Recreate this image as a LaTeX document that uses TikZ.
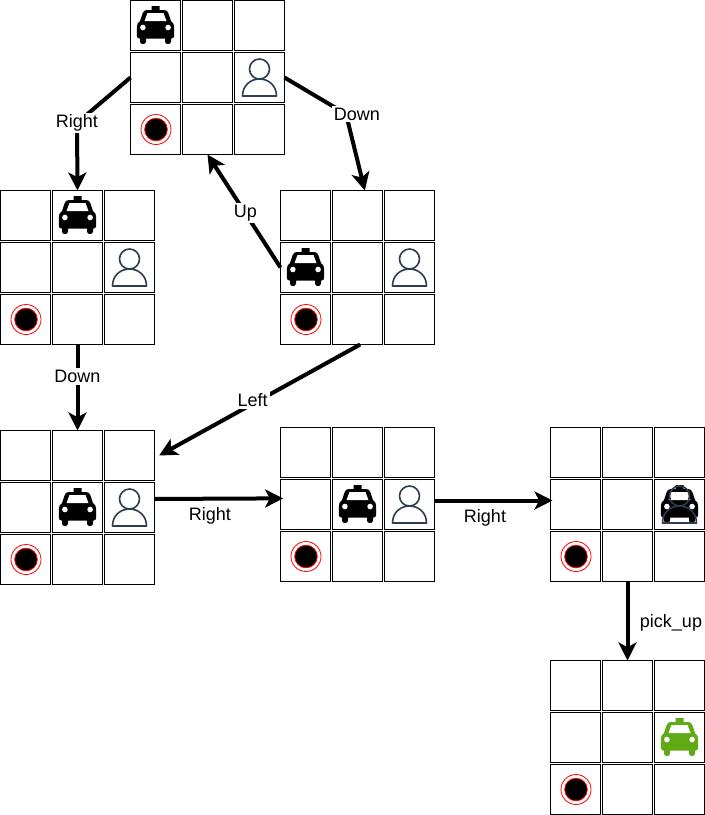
\documentclass[tikz,border=0pt]{standalone}
\usepackage{fontspec}
\setmainfont{Liberation Sans}
\usetikzlibrary{positioning,arrows.meta}
\definecolor{taxigreen}{HTML}{60A917}
\definecolor{ridercolor}{HTML}{2E3D4F}
\tikzset{
    cellbox/.style={draw, line width=1pt, minimum size=37.5pt, inner sep=0pt, outer sep=0pt},
    move/.style={line width=3pt, -{Stealth[length=13.5pt, width=13.5pt, inset=3.5pt]}},
    movelabel/.style={fill=white, inner sep=1.5pt, font=\fontsize{13.5}{16}\selectfont},
    sidelabel/.style={inner sep=1.5pt, font=\fontsize{13.5}{16}\selectfont},
    pics/taxicab/.style={code={
        \fill[#1, line join=round] (-4,-19.5) -- (4,-19.5) -- (4,-15.5) -- (9,-15.5)
            .. controls (11,-15.5) and (12,-14) .. (13,-12) -- (15.5,-4.5)
            .. controls (17.5,-3.5) and (18.7,-1) .. (18.7,2) -- (18.7,10)
            .. controls (18.7,12) and (17.5,13) .. (16,13) -- (15.5,13) -- (15.5,16)
            .. controls (15.5,19.5) and (9.5,19.5) .. (9.5,16) -- (9.5,13)
            -- (-9.5,13) -- (-9.5,16)
            .. controls (-9.5,19.5) and (-15.5,19.5) .. (-15.5,16) -- (-15.5,13) -- (-16,13)
            .. controls (-17.5,13) and (-18.7,12) .. (-18.7,10) -- (-18.7,2)
            .. controls (-18.7,-1) and (-17.5,-3.5) .. (-15.5,-4.5) -- (-13,-12)
            .. controls (-12,-14) and (-11,-15.5) .. (-9,-15.5) -- (-4,-15.5) -- cycle;
        \fill[white] (-8,-12.5) -- (8,-12.5) -- (11,-4.5) -- (-11,-4.5) -- cycle;
        \fill[white] (-12.6,2) circle (2.8) (12.6,2) circle (2.8);
    }},
    pics/rider/.style={code={
        \draw[ridercolor, line width=1.2pt, fill=#1] (0,-8.5) circle (10);
        \draw[ridercolor, line width=1.2pt, line join=round, fill=#1] (-17,18.5)
            .. controls (-17,8) and (-9,1.5) .. (0,1.5)
            .. controls (9,1.5) and (17,8) .. (17,18.5) -- cycle;
    }},
    pics/dropoff/.style={code={
        \draw[red, line width=0.6pt] (0.5,0) circle (15);
        \draw[red, fill=black, line width=0.6pt] (0.5,0) circle (11.3);
    }},
}
\newcommand{\gridworld}[3]{
    \foreach \r in {1,2,3}
        \foreach \c in {1,2,3}
            \node[cellbox] (#1-\r-\c) at ({#2+25+52*(\c-1)}, {#3+25+52*(\r-1)}) {};
}
\begin{document}
\begin{tikzpicture}[x=0.75pt, y=-0.75pt]
    \useasboundingbox (0,0) rectangle (705,815);
    \gridworld{top}{130.5}{0.5}
    \gridworld{left}{0.5}{190.5}
    \gridworld{right}{280.5}{190.5}
    \gridworld{mid}{0.5}{430.5}
    \gridworld{next}{280.5}{427.5}
    \gridworld{far}{550.5}{427.5}
    \gridworld{end}{550.5}{660.5}

    \pic at (top-1-1) {taxicab=black};
    \pic at (left-1-2) {taxicab=black};
    \pic at (right-2-1) {taxicab=black};
    \pic at (mid-2-2) {taxicab=black};
    \pic at (next-2-2) {taxicab=black};
    \pic at (far-2-3) {taxicab=black};
    \pic at (end-2-3) {taxicab=taxigreen};

    \pic at (top-2-3) {rider=white};
    \pic at (left-2-3) {rider=white};
    \pic at (right-2-3) {rider=white};
    \pic at (mid-2-3) {rider=white};
    \pic at (next-2-3) {rider=white};
    \pic at (far-2-3) {rider=none};

    \foreach \g in {top,left,right,mid,next,far,end}
        \pic at (\g-3-1) {dropoff};

    \draw[move] (top-2-1.west) -- (77,123) node[movelabel] (rightA) {Right} -- (left-1-2.north);
    \draw[move] (top-2-3.east) -- (346,114) -- ([xshift=5.5pt]right-1-2.north);
    \node[movelabel] (downA) at (357,114) {Down};
    \draw[move] (right-2-1.west) -- (top-3-2.south) node[movelabel, pos=0.48] (upA) {Up};
    \draw[move] (left-3-2.south) -- (mid-1-2.north) node[movelabel, pos=0.37] (downB) {Down};
    \draw[move] ([xshift=2pt]right-3-2.south) -- ([xshift=3.5pt]mid-1-3.east) node[movelabel, pos=0.535, yshift=2.5pt] (leftA) {Left};
    \draw[move] ([yshift=6.4pt]mid-2-3.east) -- ([xshift=2pt, yshift=4.6pt]next-2-1.west);
    \draw[move] ([yshift=3pt]next-2-3.east) -- ([xshift=1.5pt, yshift=3pt]far-2-1.west);
    \draw[move] (far-3-2.south) -- (end-1-2.north);

    \node[sidelabel] (rightB) at (210,516) {Right};
    \node[sidelabel] (rightC) at (485,518) {Right};
    \node[sidelabel] (pickup) at (671,623) {pick\_up};
\end{tikzpicture}
\end{document}
